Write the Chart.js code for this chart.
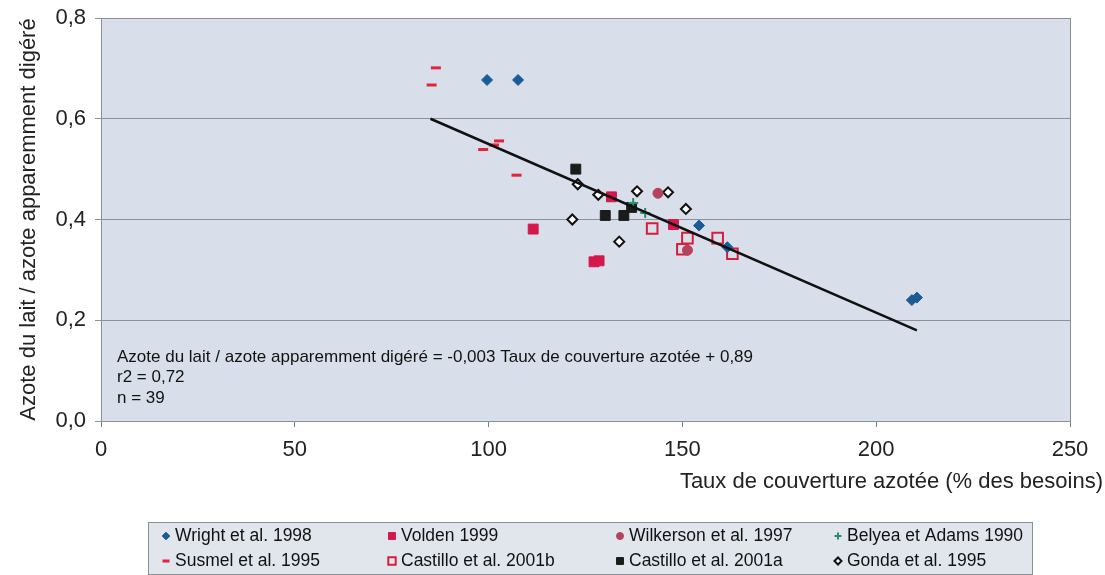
<!DOCTYPE html>
<html>
<head>
<meta charset="utf-8">
<script src="https://cdn.jsdelivr.net/npm/chart.js@4/dist/chart.umd.min.js"></script>
<style>
  html, body { margin: 0; padding: 0; background: #fff; }
  #wrap { width: 1105px; height: 575px; }
</style>
</head>
<body>
<div id="wrap"><canvas id="chart" width="1105" height="575"></canvas></div>
<script>
// valeurs
const seriesNames = ["Wright et al. 1998", "Volden 1999", "Wilkerson et al. 1997", "Belyea et Adams 1990",
  "Susmel et al. 1995", "Castillo et al. 2001b", "Castillo et al. 2001a", "Gonda et al. 1995"];

const wrightX = [99.6, 107.6, 154.3, 161.6, 209.2, 210.5];
const wrightY = [0.677, 0.677, 0.388, 0.345, 0.240, 0.245];
const voldenX = [111.5, 127.2, 128.5, 131.7, 147.7];
const voldenY = [0.381, 0.316, 0.318, 0.445, 0.390];
const wilkersonX = [143.7, 151.3];
const wilkersonY = [0.452, 0.339];
const belyeaX = [137.3, 140.4];
const belyeaY = [0.433, 0.413];
const susmelX = [85.3, 86.4, 98.6, 101.4, 102.7, 107.2];
const susmelY = [0.667, 0.701, 0.539, 0.548, 0.556, 0.488];
const castilloBX = [142.2, 151.3, 150.0, 159.1, 162.9];
const castilloBY = [0.382, 0.363, 0.341, 0.363, 0.332];
const castilloAX = [122.5, 130.1, 134.9, 136.9];
const castilloAY = [0.500, 0.408, 0.408, 0.424];
const gondaX = [121.6, 123.0, 128.3, 133.7, 138.3, 146.3, 150.9];
const gondaY = [0.400, 0.470, 0.449, 0.356, 0.456, 0.454, 0.421];

const regX = [85, 210.5];
const regY = [0.60, 0.18];

const xTicks = [0, 50, 100, 150, 200, 250];
const yTicks = [0, 0.2, 0.4, 0.6, 0.8];

const noteLines = [
  "Azote du lait / azote apparemment digéré = -0,003 Taux de couverture azotée + 0,89",
  "r2 = 0,72",
  "n = 39"
];
const xTitle = "Taux de couverture azotée (% des besoins)";
const yTitle = "Azote du lait / azote apparemment digéré";

const FONT = "'Liberation Sans', Arial, sans-serif";

function pts(xs, ys) {
  return xs.map((x, i) => ({ x: x, y: ys[i] }));
}

function serie(i, xs, ys, style, radius, fill, border, bw) {
  return {
    label: seriesNames[i],
    data: pts(xs, ys),
    pointStyle: style,
    pointRadius: radius,
    pointHoverRadius: radius,
    backgroundColor: fill,
    borderColor: border,
    pointBorderWidth: bw,
    borderWidth: bw,
    order: 2
  };
}

const datasets = [
  serie(0, wrightX, wrightY, "rectRot", 5.5, "#1d5b94", "#1d5b94", 1),
  serie(1, voldenX, voldenY, "rect", 7, "#d5174b", "#d5174b", 1),
  serie(2, wilkersonX, wilkersonY, "circle", 5, "#b5425d", "#b5425d", 1),
  serie(3, belyeaX, belyeaY, "cross", 5, "#2c8c6c", "#2c8c6c", 2),
  serie(4, susmelX, susmelY, "line", 5, "#e2233a", "#e2233a", 3),
  serie(5, castilloBX, castilloBY, "rect", 7.5, "rgba(0,0,0,0)", "#d41f3a", 2),
  serie(6, castilloAX, castilloAY, "rect", 7, "#1b1b1b", "#1b1b1b", 1),
  serie(7, gondaX, gondaY, "rectRot", 5, "#ffffff", "#111111", 2),
  {
    type: "line",
    label: "regression",
    data: pts(regX, regY),
    borderColor: "#111",
    borderWidth: 2.5,
    pointRadius: 0,
    showLine: true,
    fill: false,
    order: 1
  }
];

const fondPlot = {
  id: "fondPlot",
  beforeDraw(chart) {
    const a = chart.chartArea, ctx = chart.ctx;
    ctx.save();
    ctx.fillStyle = "#d8dfeb";
    ctx.fillRect(a.left, a.top, a.right - a.left, a.bottom - a.top);
    ctx.restore();
  },
  afterDraw(chart) {
    const a = chart.chartArea, ctx = chart.ctx;
    ctx.save();
    ctx.strokeStyle = "#8a8f96";
    ctx.lineWidth = 1;
    ctx.strokeRect(a.left + 0.5, a.top + 0.5, a.right - a.left, a.bottom - a.top);

    // texte de la regression
    ctx.fillStyle = "#111";
    ctx.font = "17px " + FONT;
    ctx.textBaseline = "middle";
    ctx.textAlign = "left";
    noteLines.forEach((t, i) => ctx.fillText(t, a.left + 16, 357 + i * 20.5));

    // titre axe x (aligne a droite)
    ctx.font = "22px " + FONT;
    ctx.fillStyle = "#222";
    ctx.textAlign = "right";
    ctx.fillText(xTitle, 1103, 482);

    // legende
    const bx = 148, by = 522, bw = 884, bh = 52;
    ctx.fillStyle = "#e1e6ed";
    ctx.fillRect(bx, by, bw, bh);
    ctx.strokeStyle = "#8a8f96";
    ctx.strokeRect(bx + 0.5, by + 0.5, bw, bh);
    const colX = [166, 392, 620, 838];
    const rowY = [536, 561];
    ctx.font = "17.5px " + FONT;
    ctx.textAlign = "left";
    for (let i = 0; i < 8; i++) {
      const ds = chart.data.datasets[i];
      const x = colX[i % 4], y = rowY[Math.floor(i / 4)];
      ctx.fillStyle = ds.backgroundColor;
      ctx.strokeStyle = ds.borderColor;
      ctx.lineWidth = ds.pointBorderWidth;
      Chart.helpers.drawPoint(ctx, {
        pointStyle: ds.pointStyle,
        radius: ds.pointRadius * 0.7,
        rotation: 0,
        borderWidth: ds.pointBorderWidth
      }, x, y);
      ctx.fillStyle = "#111";
      ctx.fillText(ds.label, x + 9, y);
    }
    ctx.restore();
  }
};

const ctx = document.getElementById("chart").getContext("2d");
const myChart = new Chart(ctx, {
  type: "scatter",
  data: { datasets: datasets },
  plugins: [fondPlot],
  options: {
    responsive: false,
    animation: false,
    devicePixelRatio: 1,
    layout: { padding: { top: 18, right: 35, bottom: 79, left: 0 } },
    plugins: { legend: { display: false }, tooltip: { enabled: false } },
    scales: {
      x: {
        type: "linear",
        min: 0, max: 250,
        afterBuildTicks: (s) => { s.ticks = xTicks.map(v => ({ value: v })); },
        afterFit: (s) => { s.height = 75; s.paddingLeft = 0; s.paddingRight = 0; },
        ticks: { color: "#222", font: { size: 22, family: FONT }, padding: 10 },
        grid: { drawOnChartArea: false, drawTicks: true, tickLength: 6, color: "#7a7f86" },
        border: { display: true, color: "#7a7f86" },
        title: { display: false }
      },
      y: {
        min: 0, max: 0.8,
        afterBuildTicks: (s) => { s.ticks = yTicks.map(v => ({ value: v })); },
        afterFit: (s) => { s.width = 101; s.paddingTop = 0; s.paddingBottom = 0; },
        ticks: {
          color: "#222", font: { size: 22, family: FONT }, padding: 9,
          callback: (v) => v.toFixed(1).replace(".", ",")
        },
        grid: { color: "#8c9097", lineWidth: 1, drawTicks: true, tickLength: 6 },
        border: { display: true, color: "#5f7a70" },
        title: {
          display: true, text: yTitle, color: "#222",
          font: { size: 22, family: FONT }, padding: { top: 16, bottom: 0 }
        }
      }
    }
  }
});
</script>
</body>
</html>
